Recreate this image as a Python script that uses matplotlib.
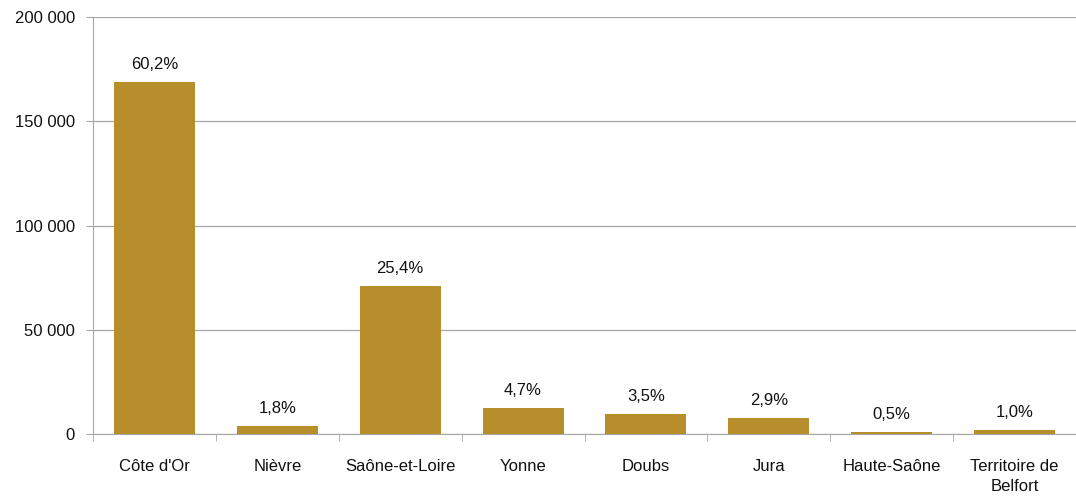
import matplotlib
matplotlib.use("Agg")
from matplotlib import pyplot as plt
from matplotlib.ticker import FuncFormatter

departements = ["Côte d'Or", "Nièvre", "Saône-et-Loire", "Yonne", "Doubs",
                "Jura", "Haute-Saône", "Territoire de\nBelfort"]
valeurs = [169000, 4000, 71200, 12600, 9700, 7800, 1100, 2100]
parts = ["60,2%", "1,8%", "25,4%", "4,7%", "3,5%", "2,9%", "0,5%", "1,0%"]

plt.rcParams['font.family'] = ['Liberation Sans', 'DejaVu Sans']
plt.rcParams['font.size'] = 12

fig = plt.figure(figsize=(10.76, 4.96), dpi=100)
ax = fig.add_axes([93 / 1076, 1 - 434 / 496, (1076 - 93) / 1076, (434 - 17) / 496])

x = list(range(len(departements)))
bars = ax.bar(x, valeurs, width=0.66, color="#B88D2B", zorder=3)
for b, p in zip(bars, parts):
    ax.annotate(p, (b.get_x() + b.get_width() / 2, b.get_height()),
                xytext=(0, 7), textcoords="offset points",
                ha="center", va="bottom", fontsize=12, color="#111111")

ax.set_xlim(-0.5, len(departements) - 0.5)
ax.set_ylim(0, 200000)
ax.set_yticks(range(0, 200001, 50000))
ax.yaxis.set_major_formatter(FuncFormatter(lambda v, _: f"{int(v):,}".replace(",", " ")))
ax.grid(axis="y", color="#A6A6A6", linewidth=0.9, zorder=0)

ax.set_xticks(x)
ax.set_xticklabels(departements, color="#111111", linespacing=1.45, va="top")
ax.set_xticks([i - 0.5 for i in range(len(departements) + 1)], minor=True)
ax.tick_params(axis="x", which="major", length=0, pad=18)
ax.tick_params(axis="x", which="minor", length=5, color="#A6A6A6")
ax.tick_params(axis="y", length=5, color="#A6A6A6", pad=8, labelcolor="#111111")

for s in ["top", "right"]:
    ax.spines[s].set_visible(False)
ax.spines["left"].set_color("#A6A6A6")
ax.spines["bottom"].set_color("#A6A6A6")

fig.savefig("out.png", dpi=100)
